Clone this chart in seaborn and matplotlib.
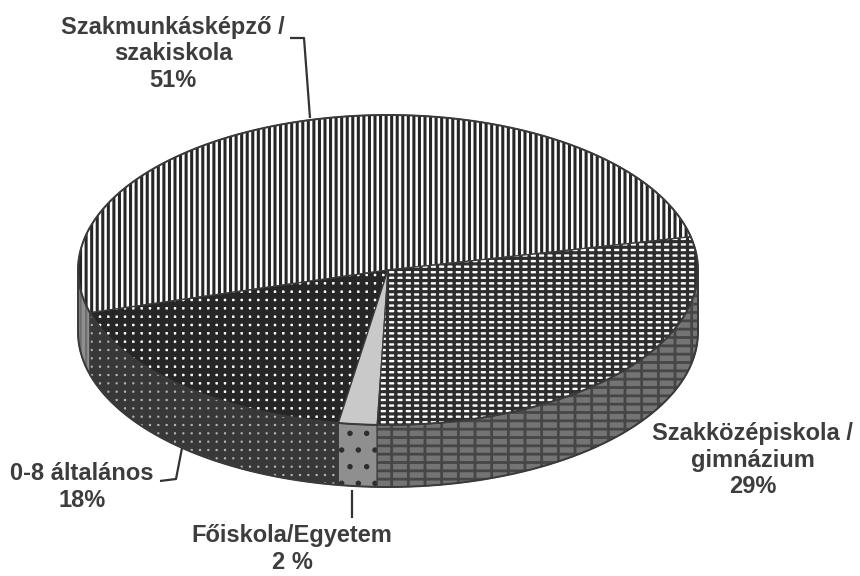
import numpy as np
import matplotlib
matplotlib.use("Agg")
import matplotlib.pyplot as plt
from matplotlib.patches import Polygon
import seaborn as sns

# ---- data (counter-clockwise order, starting at the right-hand boundary) ----
categories = ["Szakmunkásképző /\nszakiskola", "0-8 általános", "Főiskola/Egyetem",
              "Szakközépiskola /\ngimnázium"]
values = [51, 18, 2, 29]
pct_labels = ["51%", "18%", "2 %", "29%"]

sns.set_theme(style="white")
plt.rcParams['font.family'] = ['Liberation Sans', 'DejaVu Sans']

fig = plt.figure(figsize=(8.6, 5.76), dpi=100)
ax = fig.add_axes([0, 0, 1, 1])
ax.set_xlim(0, 860)
ax.set_ylim(576, 0)
ax.axis('off')

cx, cy, rx, ry, depth = 388, 270, 310, 155, 62
start = 12.4

fr = np.array(values, dtype=float) / np.sum(values)
edges = start + 360 * np.concatenate([[0], np.cumsum(fr)])

top_styles = [
    dict(face='white', hcol='#262626', hatch='|||', hlw=2.2),
    dict(face='white', hcol='#262626', hatch='--||', hlw=4.2),
    dict(face='#c9c9c9', hcol='#b4b4b4', hatch='', hlw=1.0),
    dict(face='white', hcol='#2e2e2e', hatch='---||', hlw=2.3),
]
side_styles = [
    dict(face='#8e8e8e', hcol='#6c6c6c', hatch='|||', hlw=1.5),
    dict(face='#b0b0b0', hcol='#383838', hatch='--||', hlw=4.4),
    dict(face='#8f8f8f', hcol='#2e2e2e', hatch='.', hlw=1.5),
    dict(face='#747474', hcol='#464646', hatch='--|', hlw=2.0),
]


def pt(theta_deg, dy=0.0):
    t = np.deg2rad(theta_deg)
    return cx + rx * np.cos(t), cy - ry * np.sin(t) + dy


def add_poly(verts, st):
    plt.rcParams['hatch.linewidth'] = st['hlw']
    p = Polygon(verts, closed=True, facecolor=st['face'], edgecolor=st['hcol'],
                hatch=st['hatch'] or None, linewidth=0)
    if hasattr(p, 'set_hatch_linewidth'):
        p.set_hatch_linewidth(st['hlw'])
    ax.add_patch(p)
    return p


outline = '#3a3a3a'

# side walls (only front half 180..360 is visible)
for i in range(len(values)):
    a0, a1 = edges[i], edges[i + 1]
    for lo, hi in [(180, 360), (540, 720)]:
        s, e = max(a0, lo), min(a1, hi)
        if e - s <= 0.01:
            continue
        th = np.linspace(s, e, 80)
        xs, ys = pt(th)
        xb, yb = pt(th[::-1], depth)
        verts = np.column_stack([np.r_[xs, xb], np.r_[ys, yb]])
        add_poly(verts, side_styles[i])
        ax.add_patch(Polygon(verts, closed=True, fill=False, edgecolor=outline, linewidth=0.8))

# top face wedges
for i in range(len(values)):
    th = np.linspace(edges[i], edges[i + 1], 200)
    xs, ys = pt(th)
    verts = np.column_stack([np.r_[cx, xs], np.r_[cy, ys]])
    add_poly(verts, top_styles[i])
    ax.add_patch(Polygon(verts, closed=True, fill=False, edgecolor=outline, linewidth=0.9))

# outer contour
th = np.linspace(0, 360, 400)
xs, ys = pt(th)
ax.plot(xs, ys, color=outline, lw=1.4)
th = np.linspace(180, 360, 200)
xs, ys = pt(th, depth)
ax.plot(xs, ys, color=outline, lw=1.4)
for a in (180, 360):
    x0, y0 = pt(a)
    ax.plot([x0, x0], [y0, y0 + depth], color=outline, lw=1.4)

# labels
txt = dict(fontsize=17, fontweight='bold', color='#3d3d3d', ha='center', va='center',
           linespacing=1.2)
label_pos = [(173, 54), (82, 487), (292, 549), (753, 460)]
for (x, y), cat, pc in zip(label_pos, categories, pct_labels):
    ax.text(x, y, f"{cat}\n{pc}", **txt)

lc = dict(color='#333333', lw=1.6, solid_capstyle='butt')
ax.plot([290, 304, 310], [38, 38, 118], **lc)
ax.plot([160, 176, 182], [481, 479, 448], **lc)
ax.plot([352, 352], [490, 518], **lc)

fig.savefig("out.png", dpi=100, facecolor='white')
